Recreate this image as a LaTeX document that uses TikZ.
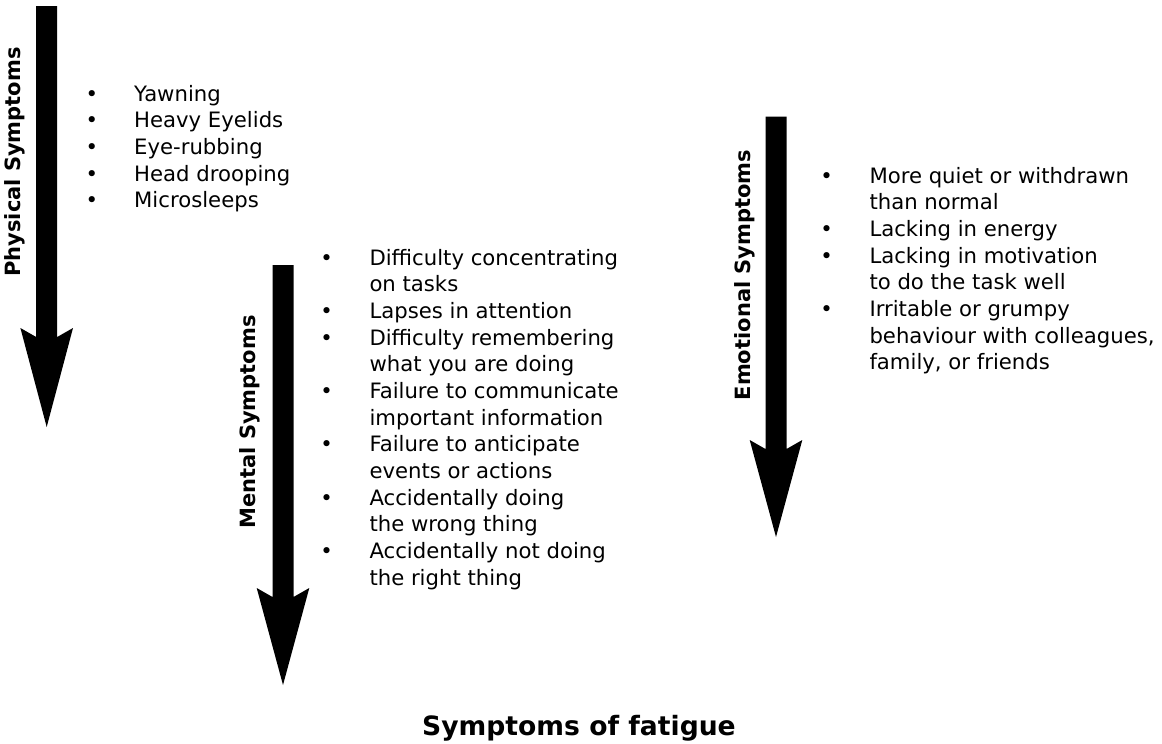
\documentclass[tikz,border=0pt]{standalone}
\usepackage{fontspec}
\setmainfont{DejaVu Sans}
\usetikzlibrary{calc}
\newcommand\symarrow[5]{% name, center x, top y, wing y, tip y
  \coordinate (#1top) at (#2,#3);
  \coordinate (#1tip) at (#2,#5);
  \fill[black] ($(#1top)+(-10.5,0)$) -- ($(#1top)+(10.5,0)$) -- (#2+10.5,#4+9) -- (#2+26.3,#4)
    -- (#1tip) -- (#2-26.3,#4) -- (#2-10.5,#4+9) -- cycle;
}
\tikzset{
  itemtext/.style={anchor=base west, inner sep=0pt, font=\fontsize{21.2}{26.67}\selectfont},
  bul/.style={anchor=base, inner sep=0pt, font=\fontsize{21.2}{26.67}\selectfont},
  sidelabel/.style={rotate=90, inner sep=0pt, font=\fontsize{21}{24}\selectfont\bfseries},
  titletext/.style={anchor=base, inner sep=0pt, font=\fontsize{26.6}{30}\selectfont\bfseries}
}
\begin{document}
\begin{tikzpicture}[x=1pt,y=-1pt]
\useasboundingbox (0,0) rectangle (1162,744);
% arrows
\symarrow{A}{46.7}{6}{328}{427}
\symarrow{B}{283}{265}{588}{685}
\symarrow{C}{776}{116.7}{440}{537}
% labels
\node[sidelabel] (lphys) at (15,162) {Physical Symptoms};
\node[sidelabel] (lment) at (250,422) {Mental Symptoms};
\node[sidelabel] (lemo) at (745,275) {Emotional Symptoms};
% physical list
\foreach \t [count=\i] in {Yawning,Heavy Eyelids,Eye-rubbing,Head drooping,Microsleeps}{
  \node[itemtext] (p\i) at (134,{101+(\i-1)*26.67}) {\t};
  \node[bul] (pb\i) at (92,{101+(\i-1)*26.67}) {•};
}
% mental list
\foreach \t [count=\i] in {Difficulty concentrating,on tasks,Lapses in attention,Difficulty remembering,what you are doing,Failure to communicate,important information,Failure to anticipate,events or actions,Accidentally doing,the wrong thing,Accidentally not doing,the right thing}{
  \node[itemtext] (m\i) at (369.3,{265+(\i-1)*26.67}) {\t};
}
\foreach \i in {1,3,4,6,8,10,12}{
  \node[bul] (mb\i) at (326.7,{265+(\i-1)*26.67}) {•};
}
% emotional list
\foreach \t [count=\i] in {More quiet or withdrawn,than normal,Lacking in energy,Lacking in motivation,to do the task well,Irritable or grumpy,{behaviour with colleagues,},{family, or friends}}{
  \node[itemtext] (e\i) at (869.3,{183.3+(\i-1)*26.67}) {\t};
}
\foreach \i in {1,3,4,6}{
  \node[bul] (eb\i) at (826.7,{183.3+(\i-1)*26.67}) {•};
}
% title
\node[titletext] (title) at (579,735) {Symptoms of fatigue};
\end{tikzpicture}
\end{document}
